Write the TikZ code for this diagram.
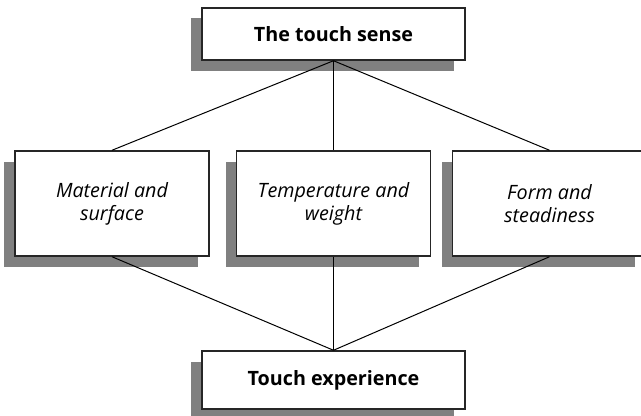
\documentclass[tikz,border=0pt]{standalone}
\usepackage{fontspec}
\setmainfont{Open Sans}
\begin{document}
\begin{tikzpicture}[x=0.75pt,y=-0.75pt,
	box/.style={draw=black!85,line width=1.1pt,fill=white,inner sep=0pt,align=center},
	headbox/.style={box,minimum width=197.25pt,font=\fontsize{14.8}{17}\selectfont\bfseries},
	sidebox/.style={box,minimum width=145.5pt,minimum height=78.75pt,font=\fontsize{14.8}{17.3}\selectfont\itshape}]
	   \useasboundingbox (0,0) rectangle (641,416);
	   % shadows
	   \fill [gray] (191,18) rectangle (454,71);
	   \fill [gray] (4,162) rectangle (198,267);
	   \fill [gray] (226,162) rectangle (419,267);
	   \fill [gray] (442,162) rectangle (635,267);
	   \fill [gray] (191,362) rectangle (454,420);
	   % connectors
	   \node [headbox,minimum height=39pt] (sense) at (333.5,34) {The touch sense};
	   \node [sidebox] (material) at (112,203.5) {Material and\\surface};
	   \node [sidebox] (temp) at (333.5,203.5) {Temperature and\\weight};
	   \node [sidebox] (form) at (549.5,203.5) {Form and\\steadiness};
	   \node [headbox,minimum height=43.5pt] (exp) at (333.5,380) {Touch experience};
	   \draw [line width=0.75pt] (sense.south) -- (material.north);
	   \draw [line width=0.75pt] (sense.south) -- (temp.north);
	   \draw [line width=0.75pt] (sense.south) -- (form.north);
	   \draw [line width=0.75pt] (material.south) -- (exp.north);
	   \draw [line width=0.75pt] (temp.south) -- (exp.north);
	   \draw [line width=0.75pt] (form.south) -- (exp.north);
\end{tikzpicture}
\end{document}
